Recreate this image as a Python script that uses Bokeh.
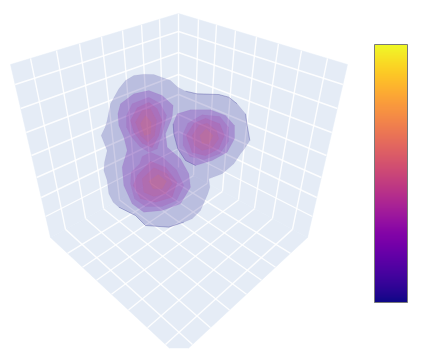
from bokeh.embed import file_html
from bokeh.models import ColorBar, FixedTicker, LinearColorMapper, Range1d
from bokeh.palettes import Plasma256
from bokeh.plotting import figure
from bokeh.resources import INLINE

# ---- scene panes (screen-scale readings)
APEX = (178, 13)
BACK = (178, 167)
LEFT_TOP = (10, 64)
LEFT_LOW = (50, 237)
FRONT = (179, 357)
MIRROR = 357
FLOOR_CUT = 347.5

wall_top_x = [30, 56, 79, 101, 122, 141, 159]
wall_low_x = [65, 85, 103, 119, 135, 150, 164]
wall_edge_y = [84, 108, 132, 155, 177, 197, 216]
wall_axis_y = [31, 52, 74, 94, 114, 131, 148]
floor_back_x = [193, 207, 222, 238, 254, 272, 292]
floor_front_x = [67, 82, 96, 111, 128, 147, 165]

shell = [(130,15),(160,11),(190,12),(240,30),(262,50),(285,62),(320,70),(385,72),(415,80),(440,100),(465,130),(470,165),(478,210),
         (462,235),(450,250),(430,280),(395,310),(355,325),(358,350),(352,370),(330,420),(305,445),(280,455),(235,470),(165,465),(135,435),
         (85,410),(68,395),(55,370),(50,330),(40,300),(42,275),(50,240),(32,195),(44,170),(50,150),(60,100),(85,55),(105,30)]
peanut = [(82,130),(90,100),(130,70),(175,60),(215,75),(248,105),(245,140),(225,190),(230,230),(270,265),
          (295,310),(300,350),(270,400),(215,420),(160,425),(125,400),(100,345),(95,290),(110,240),(100,200),(85,165)]
right_2 = [(260,130),(300,118),(360,118),(405,135),(432,165),(432,205),(410,245),(365,270),(315,285),(285,270),
           (262,235),(250,190),(248,160)]
upper_3 = [(108,135),(125,100),(175,80),(208,98),(228,135),(218,180),(200,235),(175,245),(148,228),(122,198),(108,170)]
lower_3 = [(155,258),(180,245),(218,262),(258,298),(280,345),(258,390),(215,408),(165,408),(132,385),(120,340),(122,305),(148,280)]
right_3 = [(278,190),(292,158),(335,133),(388,138),(414,170),(414,212),(388,250),(340,268),(298,258),(278,225)]
upper_4 = [(120,150),(140,112),(175,95),(200,115),(215,150),(205,195),(185,232),(155,218),(130,185)]
lower_4 = [(140,315),(180,272),(225,290),(260,335),(245,380),(195,395),(150,385),(128,345)]
right_4 = [(287,195),(310,158),(345,143),(388,160),(402,195),(385,235),(345,256),(305,246)]
upper_5 = [(135,155),(155,120),(180,115),(198,150),(192,195),(172,215),(150,195)]
lower_5 = [(155,325),(190,292),(230,310),(245,340),(225,370),(190,378),(160,365)]
right_5 = [(305,195),(325,165),(350,158),(378,180),(385,205),(365,232),(335,240),(312,225)]
upper_6 = [(150,160),(165,135),(182,155),(180,190),(162,195)]
lower_6 = [(175,332),(203,312),(228,332),(215,355),(188,355)]
right_6 = [(328,195),(347,175),(368,195),(355,220),(335,218)]

layers = [
    ([shell], "#0d0887", 0.20),
    ([peanut, right_2], "#6a00a8", 0.24),
    ([upper_3, lower_3, right_3], "#a01a9c", 0.15),
    ([upper_4, lower_4, right_4], "#c03a83", 0.18),
    ([upper_5, lower_5, right_5], "#d8576b", 0.14),
    ([upper_6, lower_6, right_6], "#ed7953", 0.14),
]

dark_edges = [
    [(285,62),(320,70),(385,72),(415,80),(440,100)],
    [(465,130),(470,165),(478,210)],
    [(85,410),(135,435),(165,465),(235,470),(280,455)],
    [(248,160),(250,190),(262,235),(285,270),(315,285)],
]


def crop_x(pts):
    return [90 + a / 3 for a, _ in pts]


def crop_y(pts):
    return [70 + b / 3 for _, b in pts]


def lerp_y(a, b, x):
    return a[1] + (x - a[0]) * (b[1] - a[1]) / (b[0] - a[0])


def mirror(x):
    return MIRROR - x


def cut(x0, y0, x1, y1):
    if y1 > FLOOR_CUT:
        t = (FLOOR_CUT - y0) / (y1 - y0)
        return x0, y0, x0 + (x1 - x0) * t, FLOOR_CUT
    return x0, y0, x1, y1


W, H = 415, 349
p = figure(width=W, height=H, output_backend="svg", toolbar_location=None,
           x_range=Range1d(0, W), y_range=Range1d(H, 0),
           min_border=0, outline_line_color=None, background_fill_color="white")
p.axis.visible = False
p.grid.visible = False

PANE = "#e5ecf6"
# panes
p.patch([LEFT_TOP[0], APEX[0], BACK[0], LEFT_LOW[0]], [LEFT_TOP[1], APEX[1], BACK[1], LEFT_LOW[1]],
        fill_color=PANE, line_color=PANE, line_width=0.5)
p.patch([mirror(LEFT_TOP[0]), APEX[0], BACK[0], mirror(LEFT_LOW[0])], [LEFT_TOP[1], APEX[1], BACK[1], LEFT_LOW[1]],
        fill_color=PANE, line_color=PANE, line_width=0.5)
cut_l = LEFT_LOW[0] + (FLOOR_CUT - LEFT_LOW[1]) * (FRONT[0] - LEFT_LOW[0]) / (FRONT[1] - LEFT_LOW[1])
p.patch([LEFT_LOW[0], BACK[0], mirror(LEFT_LOW[0]), mirror(cut_l), cut_l],
        [LEFT_LOW[1], BACK[1], LEFT_LOW[1], FLOOR_CUT, FLOOR_CUT],
        fill_color=PANE, line_color=PANE, line_width=0.5)

# grid
xs, ys = [], []
for tx, lx in zip(wall_top_x, wall_low_x):
    ty, ly = lerp_y(LEFT_TOP, APEX, tx), lerp_y(LEFT_LOW, BACK, lx)
    xs += [[tx, lx], [mirror(tx), mirror(lx)]]
    ys += [[ty, ly], [ty, ly]]
for ey, ay in zip(wall_edge_y, wall_axis_y):
    ex = LEFT_TOP[0] + (ey - LEFT_TOP[1]) * (LEFT_LOW[0] - LEFT_TOP[0]) / (LEFT_LOW[1] - LEFT_TOP[1])
    xs += [[ex, BACK[0]], [mirror(ex), BACK[0]]]
    ys += [[ey, ay], [ey, ay]]
for bx, fx in zip(floor_back_x, floor_front_x):
    by = lerp_y(BACK, (mirror(LEFT_LOW[0]), LEFT_LOW[1]), bx)
    fy = lerp_y(LEFT_LOW, FRONT, fx)
    x0, y0, x1, y1 = cut(bx, by, fx, fy)
    xs += [[x0, x1], [mirror(x0), mirror(x1)]]
    ys += [[y0, y1], [y0, y1]]
xs.append([APEX[0], BACK[0]])
ys.append([APEX[1], BACK[1]])
p.multi_line(xs, ys, line_color="white", line_width=1.4, line_alpha=0.9)

# blobs
for polys, color, alpha in layers:
    for poly in polys:
        p.patch(crop_x(poly), crop_y(poly), fill_color=color, fill_alpha=alpha, line_color=color,
                line_alpha=alpha * 0.2, line_width=1)
p.multi_line([crop_x(e) for e in dark_edges], [crop_y(e) for e in dark_edges],
             line_color="#3b3b96", line_alpha=0.3, line_width=1)

# colour bar
mapper = LinearColorMapper(palette=Plasma256, low=0, high=1)
bar = ColorBar(color_mapper=mapper, ticker=FixedTicker(ticks=[]), width=33, height=258,
               location=(374, H - 302), padding=0, margin=0, bar_line_color="#7a7a7a", bar_line_width=1,
               major_tick_line_color=None, minor_tick_line_color=None, background_fill_color=None,
               border_line_color=None, major_label_text_font_size="0px")
p.add_layout(bar, "center")

open("out.html", "w").write(file_html(p, INLINE))
